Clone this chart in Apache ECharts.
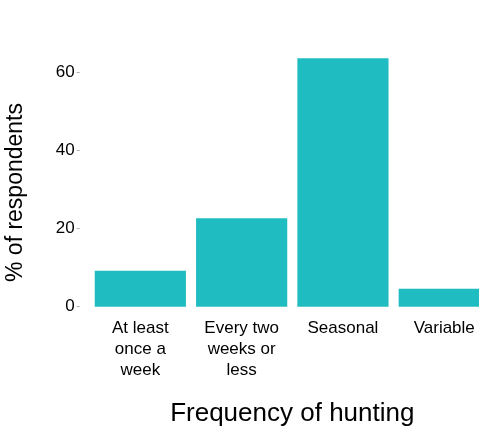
<!DOCTYPE html>
<html>
<head>
<meta charset="utf-8">
<script src="https://cdn.jsdelivr.net/npm/echarts@6/dist/echarts.min.js"></script>
<style>
html,body{margin:0;padding:0;background:#fff;}
#chart{width:479px;height:430px;}
</style>
</head>
<body>
<div id="chart"></div>
<script>
var categories = ['At least\nonce a\nweek', 'Every two\nweeks or\nless', 'Seasonal', 'Variable'];
var percentValues = [9.2, 22.7, 63.7, 4.6];
var yTickValues = [0, 20, 40, 60];
var xTitle = 'Frequency of hunting';
var yTitle = '% of respondents';

var chart = echarts.init(document.getElementById('chart'), null, {renderer: 'canvas'});
var FONT = '"Liberation Sans", Arial, Helvetica, sans-serif';
chart.setOption({
  animation: false,
  backgroundColor: '#ffffff',
  grid: {left: 89.7, right: -15.9, top: 49.3, bottom: 123.3, containLabel: false, outerBoundsMode: 'none'},
  xAxis: {
    type: 'category',
    data: categories,
    axisLine: {show: false},
    axisTick: {show: false},
    axisLabel: {
      color: '#000', fontSize: 17, fontFamily: FONT, lineHeight: 21, margin: 11, interval: 0
    },
    name: xTitle,
    nameLocation: 'middle',
    nameGap: 94,
    nameTextStyle: {color: '#000', fontSize: 26, fontFamily: FONT}
  },
  yAxis: {
    type: 'value',
    min: 0,
    max: 66,
    offset: 10,
    splitLine: {show: false},
    axisLine: {show: false},
    axisTick: {show: true, length: 3, customValues: yTickValues, lineStyle: {color: '#b0b0b0', width: 1}},
    axisLabel: {customValues: yTickValues, color: '#000', fontSize: 17, fontFamily: FONT, margin: 5}
  },
  graphic: [{
    type: 'text',
    x: 16, y: 192.5,
    rotation: Math.PI / 2,
    style: {text: yTitle, fill: '#000', fontSize: 23, fontFamily: FONT, align: 'center', verticalAlign: 'middle'}
  }],
  series: [{
    type: 'bar',
    data: percentValues,
    barCategoryGap: '10%',
    itemStyle: {color: '#1fbcc1'}
  }]
});
</script>
</body>
</html>
